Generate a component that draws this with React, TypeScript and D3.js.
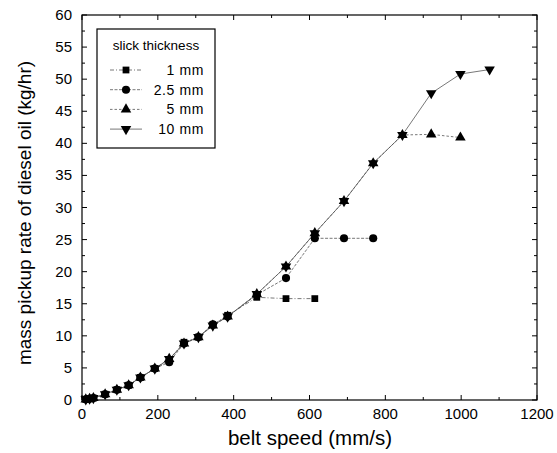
import React from "react";
import * as d3 from "d3";

const speed1 = [10, 20, 30, 61, 92, 123, 154, 192, 230, 269, 307, 345, 384, 461, 538, 614];
const rate1 = [0.1, 0.2, 0.3, 0.9, 1.6, 2.3, 3.5, 4.9, 6.2, 9.0, 9.8, 11.7, 13.2, 16.0, 15.8, 15.8];

const speed25 = [10, 20, 30, 61, 92, 123, 154, 192, 230, 269, 307, 345, 384, 461, 538, 614, 691, 768];
const rate25 = [0.1, 0.2, 0.3, 0.9, 1.6, 2.3, 3.5, 4.9, 5.9, 8.8, 9.8, 11.8, 13.0, 16.4, 19.0, 25.2, 25.2, 25.2];

const speed5 = [10, 20, 30, 61, 92, 123, 154, 192, 230, 269, 307, 345, 384, 461, 538, 614, 691, 768, 845, 921, 998];
const rate5 = [0.1, 0.2, 0.3, 0.9, 1.6, 2.3, 3.5, 4.9, 6.4, 8.8, 9.8, 11.6, 13.0, 16.5, 20.8, 26.0, 31.0, 36.9, 41.3, 41.4, 40.9];

const speed10 = [10, 20, 30, 61, 92, 123, 154, 192, 230, 269, 307, 345, 384, 461, 538, 614, 691, 768, 845, 921, 998, 1075];
const rate10 = [0.1, 0.2, 0.3, 0.9, 1.6, 2.3, 3.5, 4.9, 6.4, 8.8, 9.8, 11.6, 13.0, 16.5, 20.8, 26.0, 31.0, 36.9, 41.3, 47.8, 50.8, 51.5];

const seriesLabels = ["1 mm", "2.5 mm", "5 mm", "10 mm"];
const xTicks = [0, 200, 400, 600, 800, 1000, 1200];
const yTicks = [0, 5, 10, 15, 20, 25, 30, 35, 40, 45, 50, 55, 60];

const W = 557, H = 453;
const font = "'Liberation Sans', Arial, Helvetica, sans-serif";

export default function App() {
  const x = d3.scaleLinear().domain([0, 1200]).range([82, 537]);
  const y = d3.scaleLinear().domain([0, 60]).range([400, 15]);

  const series = [
    { xs: speed1, ys: rate1, sym: d3.symbolSquare, size: 46, rot: 0, dash: "4,2,1,2" },
    { xs: speed25, ys: rate25, sym: d3.symbolCircle, size: 52, rot: 0, dash: "3,1.5" },
    { xs: speed5, ys: rate5, sym: d3.symbolTriangle, size: 48, rot: 0, dash: "2.5,2" },
    { xs: speed10, ys: rate10, sym: d3.symbolTriangle, size: 48, rot: 180, dash: "" },
  ];

  const line = d3.line<[number, number]>().x(d => x(d[0])).y(d => y(d[1]));

  const xMinor = d3.range(0, 1201, 100);
  const yMinor = d3.range(0, 60.1, 2.5);

  const x0 = x(0), x1 = x(1200), y0 = y(0), y1 = y(60);

  const drawOrder = [3, 2, 1, 0];

  return (
    <svg width={W} height={H} style={{ position: "absolute", left: 0, top: 0, background: "#fff" }}>
      <rect x={0} y={0} width={W} height={H} fill="#fff" />
      {drawOrder.map(i => {
        const s = series[i];
        const pts = s.xs.map((v, k) => [v, s.ys[k]] as [number, number]);
        return (
          <path key={"l" + i} d={line(pts) || ""} fill="none" stroke="#555" strokeWidth={0.8}
            strokeDasharray={s.dash} />
        );
      })}
      {drawOrder.map(i => {
        const s = series[i];
        const p = d3.symbol().type(s.sym).size(s.size)() || "";
        return (
          <g key={"m" + i}>
            {s.xs.map((v, k) => (
              <path key={k} d={p} fill="#000"
                transform={`translate(${x(v)},${y(s.ys[k])}) rotate(${s.rot})`} />
            ))}
          </g>
        );
      })}
      <rect x={x0} y={y1} width={x1 - x0} height={y0 - y1} fill="none" stroke="#000" strokeWidth={1.2} />
      {xMinor.map(v => {
        const major = v % 200 === 0;
        const len = major ? 5 : 3;
        return (
          <g key={"xt" + v}>
            <line x1={x(v)} x2={x(v)} y1={y0} y2={y0 - len} stroke="#000" strokeWidth={1} />
            <line x1={x(v)} x2={x(v)} y1={y1} y2={y1 + len} stroke="#000" strokeWidth={1} />
          </g>
        );
      })}
      {yMinor.map(v => {
        const major = v % 5 === 0;
        const len = major ? 5 : 3;
        return (
          <g key={"yt" + v}>
            <line x1={x0} x2={x0 + len} y1={y(v)} y2={y(v)} stroke="#000" strokeWidth={1} />
            <line x1={x1} x2={x1 - len} y1={y(v)} y2={y(v)} stroke="#000" strokeWidth={1} />
          </g>
        );
      })}
      {xTicks.map(v => (
        <text key={"xl" + v} x={x(v)} y={y0 + 19} textAnchor="middle" fontFamily={font} fontSize={15} fill="#000">{v}</text>
      ))}
      {yTicks.map(v => (
        <text key={"yl" + v} x={x0 - 10} y={y(v) + 5} textAnchor="end" fontFamily={font} fontSize={15} fill="#000">{v}</text>
      ))}
      <text x={310} y={445} textAnchor="middle" fontFamily={font} fontSize={20.5} fill="#000">belt speed (mm/s)</text>
      <text transform={`translate(31,213) rotate(-90)`} textAnchor="middle" fontFamily={font} fontSize={19} fill="#000">mass pickup rate of diesel oil (kg/hr)</text>
      <g>
        <rect x={97} y={29} width={118} height={119} fill="#fff" stroke="#000" strokeWidth={1.2} />
        <text x={156} y={50} textAnchor="middle" fontFamily={font} fontSize={13.5} fill="#000">slick thickness</text>
        {series.map((s, i) => {
          const ly = 70 + i * 19.7;
          const p = d3.symbol().type(s.sym).size(s.size)() || "";
          return (
            <g key={"lg" + i}>
              <line x1={110} x2={142} y1={ly} y2={ly} stroke="#555" strokeWidth={0.8} strokeDasharray={s.dash} />
              <path d={p} fill="#000" transform={`translate(126,${ly}) rotate(${s.rot})`} />
              <text x={204} y={ly + 5} textAnchor="end" fontFamily={font} fontSize={14} letterSpacing={0.6} fill="#000">{seriesLabels[i]}</text>
            </g>
          );
        })}
      </g>
    </svg>
  );
}
